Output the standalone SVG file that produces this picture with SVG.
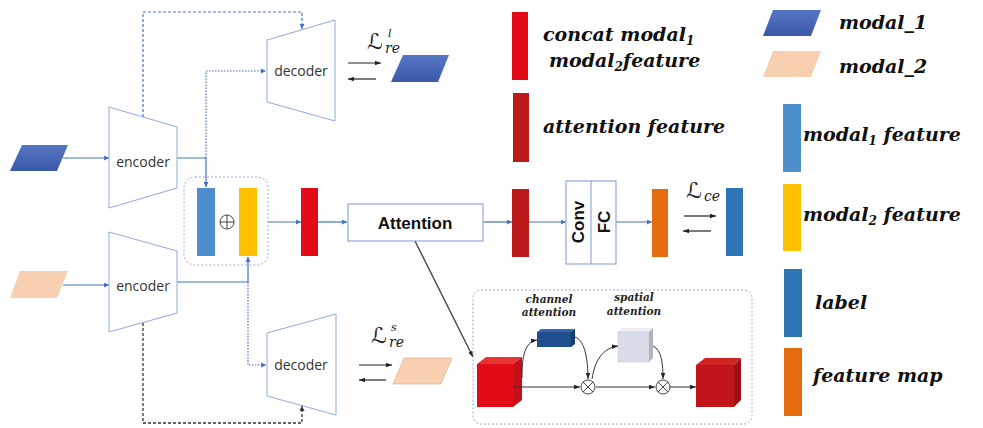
<svg xmlns="http://www.w3.org/2000/svg" width="983" height="428" viewBox="0 0 983 428">
  <defs>
    <linearGradient id="gBlue" x1="0" y1="0" x2="0" y2="1">
      <stop offset="0" stop-color="#5677c4"/>
      <stop offset="1" stop-color="#3a57a8"/>
    </linearGradient>
    <marker id="aBlue" viewBox="0 0 6 6" refX="6" refY="3" markerWidth="5" markerHeight="5" markerUnits="userSpaceOnUse" orient="auto">
      <path d="M0,0 L6,3 L0,6 z" fill="#4472c4"/>
    </marker>
    <marker id="aDark" viewBox="0 0 6 6" refX="6" refY="3" markerWidth="5" markerHeight="5" markerUnits="userSpaceOnUse" orient="auto">
      <path d="M0,0 L6,3 L0,6 z" fill="#333"/>
    </marker>
    <marker id="aBlack" viewBox="0 0 8 6" refX="8" refY="3" markerWidth="6" markerHeight="5" markerUnits="userSpaceOnUse" orient="auto">
      <path d="M0,0 L8,3 L0,6 z" fill="#222"/>
    </marker>
  </defs>
  <style>
    .coder { fill: #fff; stroke: #8faadc; stroke-width: 1; }
    .coderTxt { font-family: "Open Sans", "Liberation Sans", sans-serif; font-size: 14px; fill: #333; text-anchor: middle; }
    .box { fill: #fff; stroke: #8faadc; stroke-width: 1.2; }
    .bold { font-family: "Liberation Sans", Arial, sans-serif; font-weight: bold; fill: #111; text-anchor: middle; }
    .conn { fill: none; stroke: #4472c4; stroke-width: 1.2; }
    .dot { fill: none; stroke: #4472c4; stroke-width: 1.2; stroke-dasharray: 1.5 1.5; }
    .dashB { fill: none; stroke: #4472c4; stroke-width: 1.2; stroke-dasharray: 3 2; }
    .dashK { fill: none; stroke: #333; stroke-width: 1.3; stroke-dasharray: 3 2; }
    .loss { fill: none; stroke: #222; stroke-width: 1.2; }
    .leg { font-family: "DejaVu Serif", "Liberation Serif", serif; font-style: italic; font-weight: bold; font-size: 19px; fill: #111; }
    .scriptL { font-family: "DejaVu Sans", "Liberation Serif", serif; font-size: 22px; fill: #222; }
    .math { font-family: "DejaVu Serif", "Liberation Serif", serif; font-style: italic; fill: #222; }
    .small { font-family: "DejaVu Serif", "Liberation Serif", serif; font-style: italic; font-weight: bold; font-size: 10.5px; fill: #222; text-anchor: middle; }
    .frame { fill: none; stroke: #8faadc; stroke-width: 1; stroke-dasharray: 2 2; }
    .op { fill: #fff; stroke: #444; stroke-width: 1; }
    .curve { fill: none; stroke: #333; stroke-width: 1; }
  </style>

  <!-- connectors -->
  <g id="connectors">
    <line class="conn" x1="63" y1="158" x2="109" y2="158" marker-end="url(#aBlue)"/>
    <line class="conn" x1="63" y1="285" x2="109" y2="285" marker-end="url(#aBlue)"/>
    <polyline class="conn" points="177,158 206,158 206,187" marker-end="url(#aBlue)"/>
    <polyline class="conn" points="177,282 248,282 248,257" marker-end="url(#aBlue)"/>
    <polyline class="dot" points="206,158 206,71 266,71" marker-end="url(#aBlue)"/>
    <polyline class="dot" points="248,282 248,365 266,365" marker-end="url(#aBlue)"/>
    <polyline class="dashB" points="143,117 143,12 302,12 302,29" marker-end="url(#aBlue)"/>
    <polyline class="dashK" points="143,323 143,423 302,423 302,406" marker-end="url(#aDark)"/>
    <line class="conn" x1="268" y1="222" x2="301" y2="222" marker-end="url(#aBlue)"/>
    <line class="conn" x1="318" y1="222" x2="347" y2="222" marker-end="url(#aBlue)"/>
    <line class="conn" x1="483" y1="222" x2="512" y2="222" marker-end="url(#aBlue)"/>
    <line class="conn" x1="529" y1="222" x2="566" y2="222" marker-end="url(#aBlue)"/>
    <line class="conn" x1="616" y1="222" x2="652" y2="222" marker-end="url(#aBlue)"/>
    <line x1="415" y1="241" x2="473" y2="357" stroke="#333" stroke-width="1.2" marker-end="url(#aBlack)"/>
    <!-- loss arrows -->
    <line class="loss" x1="348" y1="63" x2="381" y2="63" marker-end="url(#aBlack)"/>
    <line class="loss" x1="376" y1="79" x2="348" y2="79" marker-end="url(#aBlack)"/>
    <line class="loss" x1="359" y1="365" x2="392" y2="365" marker-end="url(#aBlack)"/>
    <line class="loss" x1="386" y1="380" x2="359" y2="380" marker-end="url(#aBlack)"/>
    <line class="loss" x1="684" y1="216" x2="716" y2="216" marker-end="url(#aBlack)"/>
    <line class="loss" x1="711" y1="231" x2="683" y2="231" marker-end="url(#aBlack)"/>
  </g>

  <!-- inputs -->
  <g id="input1"><polygon points="22,145 68,145 57,171 10,171" fill="url(#gBlue)"/></g>
  <g id="input2"><polygon points="20,271 68,271 57,298 10,298" fill="#f8cfb0"/></g>

  <!-- encoders / decoders -->
  <g id="encoder1">
    <polygon class="coder" points="109,107 177,127 177,188 109,208"/>
    <text class="coderTxt" x="143" y="167">encoder</text>
  </g>
  <g id="encoder2">
    <polygon class="coder" points="109,232 177,251 177,313 109,332"/>
    <text class="coderTxt" x="143" y="291">encoder</text>
  </g>
  <g id="decoder1">
    <polygon class="coder" points="267,40 335,20 335,121 267,102"/>
    <text class="coderTxt" x="301" y="76">decoder</text>
  </g>
  <g id="decoder2">
    <polygon class="coder" points="267,333 336,314 336,415 267,396"/>
    <text class="coderTxt" x="301" y="370">decoder</text>
  </g>

  <!-- fusion of modal features -->
  <g id="fusion">
    <rect x="184" y="177" width="84" height="88" rx="11" class="frame" stroke-width="1.2"/>
    <rect x="197" y="188" width="18" height="68" fill="#4e8fcd"/>
    <rect x="239" y="188" width="18" height="68" fill="#ffc000"/>
    <circle cx="227" cy="222" r="7" fill="none" stroke="#444" stroke-width="1"/>
    <line x1="220" y1="222" x2="234" y2="222" stroke="#444" stroke-width="1"/>
    <line x1="227" y1="215" x2="227" y2="229" stroke="#444" stroke-width="1"/>
  </g>

  <g id="concatFeature"><rect x="301" y="188" width="17" height="68" fill="#e30b17"/></g>

  <g id="attention">
    <rect class="box" x="348" y="204" width="135" height="37"/>
    <text class="bold" x="415" y="229" font-size="17">Attention</text>
  </g>

  <g id="attentionFeature"><rect x="512" y="189" width="17" height="68" fill="#bd1a1a"/></g>

  <g id="convFc">
    <rect class="box" x="566" y="181" width="50" height="83"/>
    <line x1="591" y1="181" x2="591" y2="264" stroke="#8faadc" stroke-width="1.2"/>
    <text class="bold" font-size="17" transform="translate(584,222) rotate(-90)">Conv</text>
    <text class="bold" font-size="17" transform="translate(610,222) rotate(-90)">FC</text>
  </g>

  <g id="featureMap"><rect x="652" y="189" width="16" height="68" fill="#e46c0e"/></g>
  <g id="label"><rect x="726" y="188" width="17" height="68" fill="#2e75b6"/></g>

  <!-- loss labels -->
  <g id="lossCe">
    <text class="scriptL" x="686" y="198">ℒ</text>
    <text class="math" x="704" y="201" font-size="14">ce</text>
  </g>
  <g id="lossReL">
    <text class="scriptL" x="367" y="49">ℒ</text>
    <text class="math" x="385" y="53" font-size="14">re</text>
    <text class="math" x="388" y="37" font-size="11">l</text>
  </g>
  <g id="lossReS">
    <text class="scriptL" x="371" y="343">ℒ</text>
    <text class="math" x="389" y="347" font-size="14">re</text>
    <text class="math" x="391" y="331" font-size="11">s</text>
  </g>

  <g id="recon1"><polygon points="403,55 449,55 438,82 391,82" fill="url(#gBlue)"/></g>
  <g id="recon2"><polygon points="404,358 452,358 441,384 393,384" fill="#f8cfb0" stroke="#e0a880" stroke-width="0.6"/></g>

  <!-- attention module detail -->
  <g id="attentionDetail">
    <rect class="frame" x="473" y="290" width="279" height="134" rx="8"/>
    <!-- input cube -->
    <polygon points="477,364 486,357 522,357 513,364" fill="#e63434"/>
    <polygon points="513,364 522,357 522,400 513,407" fill="#c41018"/>
    <rect x="477" y="364" width="36" height="43" fill="#e20c18"/>
    <!-- channel attention block -->
    <polygon points="537,332 541,329 575,329 571,332" fill="#3467a8"/>
    <polygon points="571,332 575,329 575,344 571,347" fill="#163c70"/>
    <rect x="537" y="332" width="34" height="15" fill="#1f4e8c"/>
    <!-- spatial attention block -->
    <polygon points="618,332 622,328 653,328 649,332" fill="#eceef3"/>
    <polygon points="649,332 653,328 653,358 649,362" fill="#aeb3bd"/>
    <rect x="618" y="332" width="31" height="30" fill="#d9dde8" stroke="#bfc4ce" stroke-width="0.5"/>
    <!-- output cube -->
    <polygon points="696,365 705,358 741,358 734,365" fill="#d02424"/>
    <polygon points="734,365 741,358 741,400 734,407" fill="#9e1015"/>
    <rect x="696" y="365" width="38" height="42" fill="#c0141a"/>
    <!-- flow -->
    <line class="curve" x1="513" y1="387" x2="580" y2="387" marker-end="url(#aBlack)"/>
    <line class="curve" x1="596" y1="387" x2="655" y2="387" marker-end="url(#aBlack)"/>
    <line class="curve" x1="670" y1="387" x2="696" y2="387" marker-end="url(#aBlack)"/>
    <path class="curve" d="M522,378 C522,355 525,342 537,340" marker-end="url(#aBlack)"/>
    <path class="curve" d="M575,337 C585,340 588,360 588,379" marker-end="url(#aBlack)"/>
    <path class="curve" d="M592,379 C595,360 603,348 618,346" marker-end="url(#aBlack)"/>
    <path class="curve" d="M653,346 C662,350 663,365 663,379" marker-end="url(#aBlack)"/>
    <circle class="op" cx="588" cy="387" r="7"/>
    <path d="M583,382 L593,392 M593,382 L583,392" stroke="#444" stroke-width="1"/>
    <circle class="op" cx="663" cy="387" r="7"/>
    <path d="M658,382 L668,392 M668,382 L658,392" stroke="#444" stroke-width="1"/>
    <text class="small" x="549" y="303">channel</text>
    <text class="small" x="549" y="316">attention</text>
    <text class="small" x="634" y="301">spatial</text>
    <text class="small" x="634" y="315">attention</text>
  </g>

  <!-- legend -->
  <g id="legendConcat">
    <rect x="512" y="12" width="16" height="68" fill="#e30b17"/>
    <text class="leg" x="543" y="41">concat modal<tspan font-size="12" dy="4">1</tspan></text>
    <text class="leg" x="549" y="67">modal<tspan font-size="12" dy="4">2</tspan><tspan dy="-4">feature</tspan></text>
  </g>
  <g id="legendAttention">
    <rect x="513" y="93" width="16" height="69" fill="#bd1a1a"/>
    <text class="leg" x="543" y="133">attention feature</text>
  </g>
  <g id="legendModal1">
    <polygon points="773,10 821,10 811,36 763,36" fill="url(#gBlue)"/>
    <text class="leg" x="839" y="29">modal_1</text>
  </g>
  <g id="legendModal2">
    <polygon points="773,51 821,51 811,77 763,77" fill="#f8cfb0"/>
    <text class="leg" x="839" y="73">modal_2</text>
  </g>
  <g id="legendModal1Feature">
    <rect x="783" y="104" width="18" height="68" fill="#4e8fcd"/>
    <text class="leg" x="803" y="141">modal<tspan font-size="12" dy="4">1</tspan><tspan dy="-4"> feature</tspan></text>
  </g>
  <g id="legendModal2Feature">
    <rect x="783" y="184" width="18" height="67" fill="#ffc000"/>
    <text class="leg" x="803" y="221">modal<tspan font-size="12" dy="4">2</tspan><tspan dy="-4"> feature</tspan></text>
  </g>
  <g id="legendLabel">
    <rect x="784" y="269" width="18" height="68" fill="#2e75b6"/>
    <text class="leg" x="815" y="309">label</text>
  </g>
  <g id="legendFeatureMap">
    <rect x="784" y="348" width="18" height="68" fill="#e46c0e"/>
    <text class="leg" x="813" y="382">feature map</text>
  </g>
</svg>
